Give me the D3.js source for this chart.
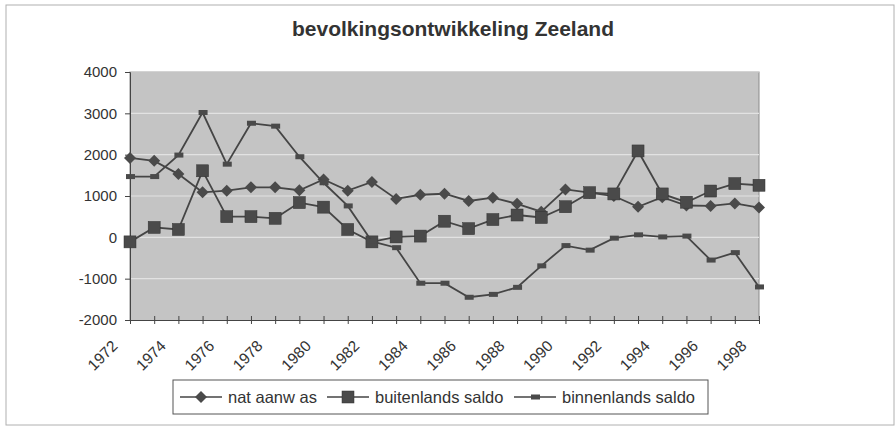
<!DOCTYPE html>
<html lang="nl">
<head>
    <meta charset="UTF-8">
    <title>bevolkingsontwikkeling Zeeland</title>
    <script src="https://d3js.org/d3.v7.min.js"></script>
    <style type="text/css">
        body { margin: 0; background: white; }
        text { font-family: "Liberation Sans", Arial, sans-serif; fill: #333; }
    </style>
</head>
<body>
<script type="text/javascript">

    // jaren 1972 - 1998
    const years = d3.range(1972, 1999);
    const yTicks = [-2000, -1000, 0, 1000, 2000, 3000, 4000];

    const natAanwas = [1920, 1850, 1530, 1090, 1130, 1210, 1210, 1140, 1400, 1130, 1340, 930,
                       1030, 1055, 880, 960, 810, 620, 1160, 1080, 1000, 740, 970, 770, 760, 820, 720];
    const buitenlands = [-110, 240, 190, 1610, 500, 500, 460, 840, 730, 190, -110, 10,
                         30, 390, 210, 430, 540, 480, 740, 1080, 1050, 2090, 1050, 850, 1120, 1300, 1260];
    const binnenlands = [1470, 1470, 1990, 3020, 1770, 2760, 2690, 1950, 1320, 760, -100, -250,
                         -1110, -1110, -1450, -1380, -1210, -690, -200, -310, -20, 60, 10, 30, -550, -370, -1200];

    const series = [
        { name: "nat aanw as", values: natAanwas, marker: "diamond" },
        { name: "buitenlands saldo", values: buitenlands, marker: "square" },
        { name: "binnenlands saldo", values: binnenlands, marker: "dash" }
    ];

    const width = 896, height = 427;
    const plot = { left: 130, right: 759, top: 72, bottom: 320 };
    const lineColor = "#454545", markColor = "#4a4a4a";

    const svg = d3.select("body").append("svg")
        .attr("width", width)
        .attr("height", height);

    // rand om de hele grafiek
    svg.append("rect")
        .attr("x", 6).attr("y", 5)
        .attr("width", 888).attr("height", 420)
        .attr("fill", "white")
        .attr("stroke", "#b0b0b0");

    svg.append("text")
        .attr("x", 453).attr("y", 36)
        .attr("text-anchor", "middle")
        .style("font-size", "21px")
        .style("font-weight", "bold")
        .text("bevolkingsontwikkeling Zeeland");

    const x = d3.scaleLinear()
        .domain([1972, 1998])
        .range([plot.left, plot.right]);

    const y = d3.scaleLinear()
        .domain([-2000, 4000])
        .range([plot.bottom, plot.top]);

    svg.append("rect")
        .attr("x", plot.left).attr("y", plot.top)
        .attr("width", plot.right - plot.left)
        .attr("height", plot.bottom - plot.top)
        .attr("fill", "#c4c4c4")
        .attr("stroke", "#8a8a8a");

    svg.append("g").selectAll("line")
        .data(yTicks)
        .enter().append("line")
        .attr("x1", plot.left).attr("x2", plot.right)
        .attr("y1", d => y(d)).attr("y2", d => y(d))
        .attr("stroke", "#e2e2e2")
        .attr("stroke-width", 1.2);

    // gewoon streepje als minteken, zoals in het origineel
    const yAxis = svg.append("g")
        .attr("transform", "translate(" + plot.left + ",0)")
        .call(d3.axisLeft(y).tickValues(yTicks).tickSize(5).tickPadding(8).tickFormat(d => String(d)));
    yAxis.select(".domain").attr("stroke", "#444");
    yAxis.selectAll("line").attr("stroke", "#444");
    yAxis.selectAll("text").style("font-size", "15px").attr("fill", "#333");

    const xAxis = svg.append("g")
        .attr("transform", "translate(0," + plot.bottom + ")")
        .call(d3.axisBottom(x).tickValues(years).tickSize(5).tickSizeOuter(0)
            .tickFormat(d => (d % 2 === 0 ? d : "")));
    xAxis.select(".domain").attr("stroke", "#444");
    xAxis.selectAll("line").attr("stroke", "#444").attr("y1", -4).attr("y2", 4);
    xAxis.selectAll("text")
        .style("font-size", "15.5px")
        .attr("fill", "#333")
        .attr("text-anchor", "end")
        .attr("y", 0)
        .attr("dy", null)
        .attr("transform", "translate(-12,27) rotate(-45)");

    const line = d3.line()
        .x((d, i) => x(years[i]))
        .y(d => y(d));

    function drawMarker(g, type) {
        if (type === "diamond") {
            g.append("path").attr("d", "M0,-6L6,0L0,6L-6,0Z").attr("fill", markColor);
        } else if (type === "square") {
            g.append("rect").attr("x", -6).attr("y", -6).attr("width", 12).attr("height", 12)
                .attr("fill", markColor).attr("stroke", "#333").attr("stroke-width", 0.5);
        } else {
            g.append("rect").attr("x", -4).attr("y", -2.5).attr("width", 9).attr("height", 5)
                .attr("fill", markColor);
        }
    }

    series.forEach(function(s) {
        svg.append("path")
            .datum(s.values)
            .attr("fill", "none")
            .attr("stroke", lineColor)
            .attr("stroke-width", 1.8)
            .attr("d", line);

        svg.append("g").selectAll("g")
            .data(s.values)
            .enter().append("g")
            .attr("transform", (d, i) => "translate(" + x(years[i]) + "," + y(d) + ")")
            .each(function() { drawMarker(d3.select(this), s.marker); });
    });

    // legenda
    const legend = svg.append("g");
    legend.append("rect")
        .attr("x", 173).attr("y", 380)
        .attr("width", 535).attr("height", 34)
        .attr("fill", "white")
        .attr("stroke", "#555");

    const legendX = [180, 327, 514];
    series.forEach(function(s, i) {
        const g = legend.append("g").attr("transform", "translate(" + legendX[i] + ",397)");
        g.append("line").attr("x1", 0).attr("x2", 42).attr("stroke", lineColor).attr("stroke-width", 1.5);
        const m = g.append("g").attr("transform", "translate(21,0)");
        drawMarker(m, s.marker);
        g.append("text").attr("x", 48).attr("y", 5.5)
            .style("font-size", "16.5px")
            .attr("fill", "#333")
            .text(s.name);
    });

</script>
</body>
</html>
